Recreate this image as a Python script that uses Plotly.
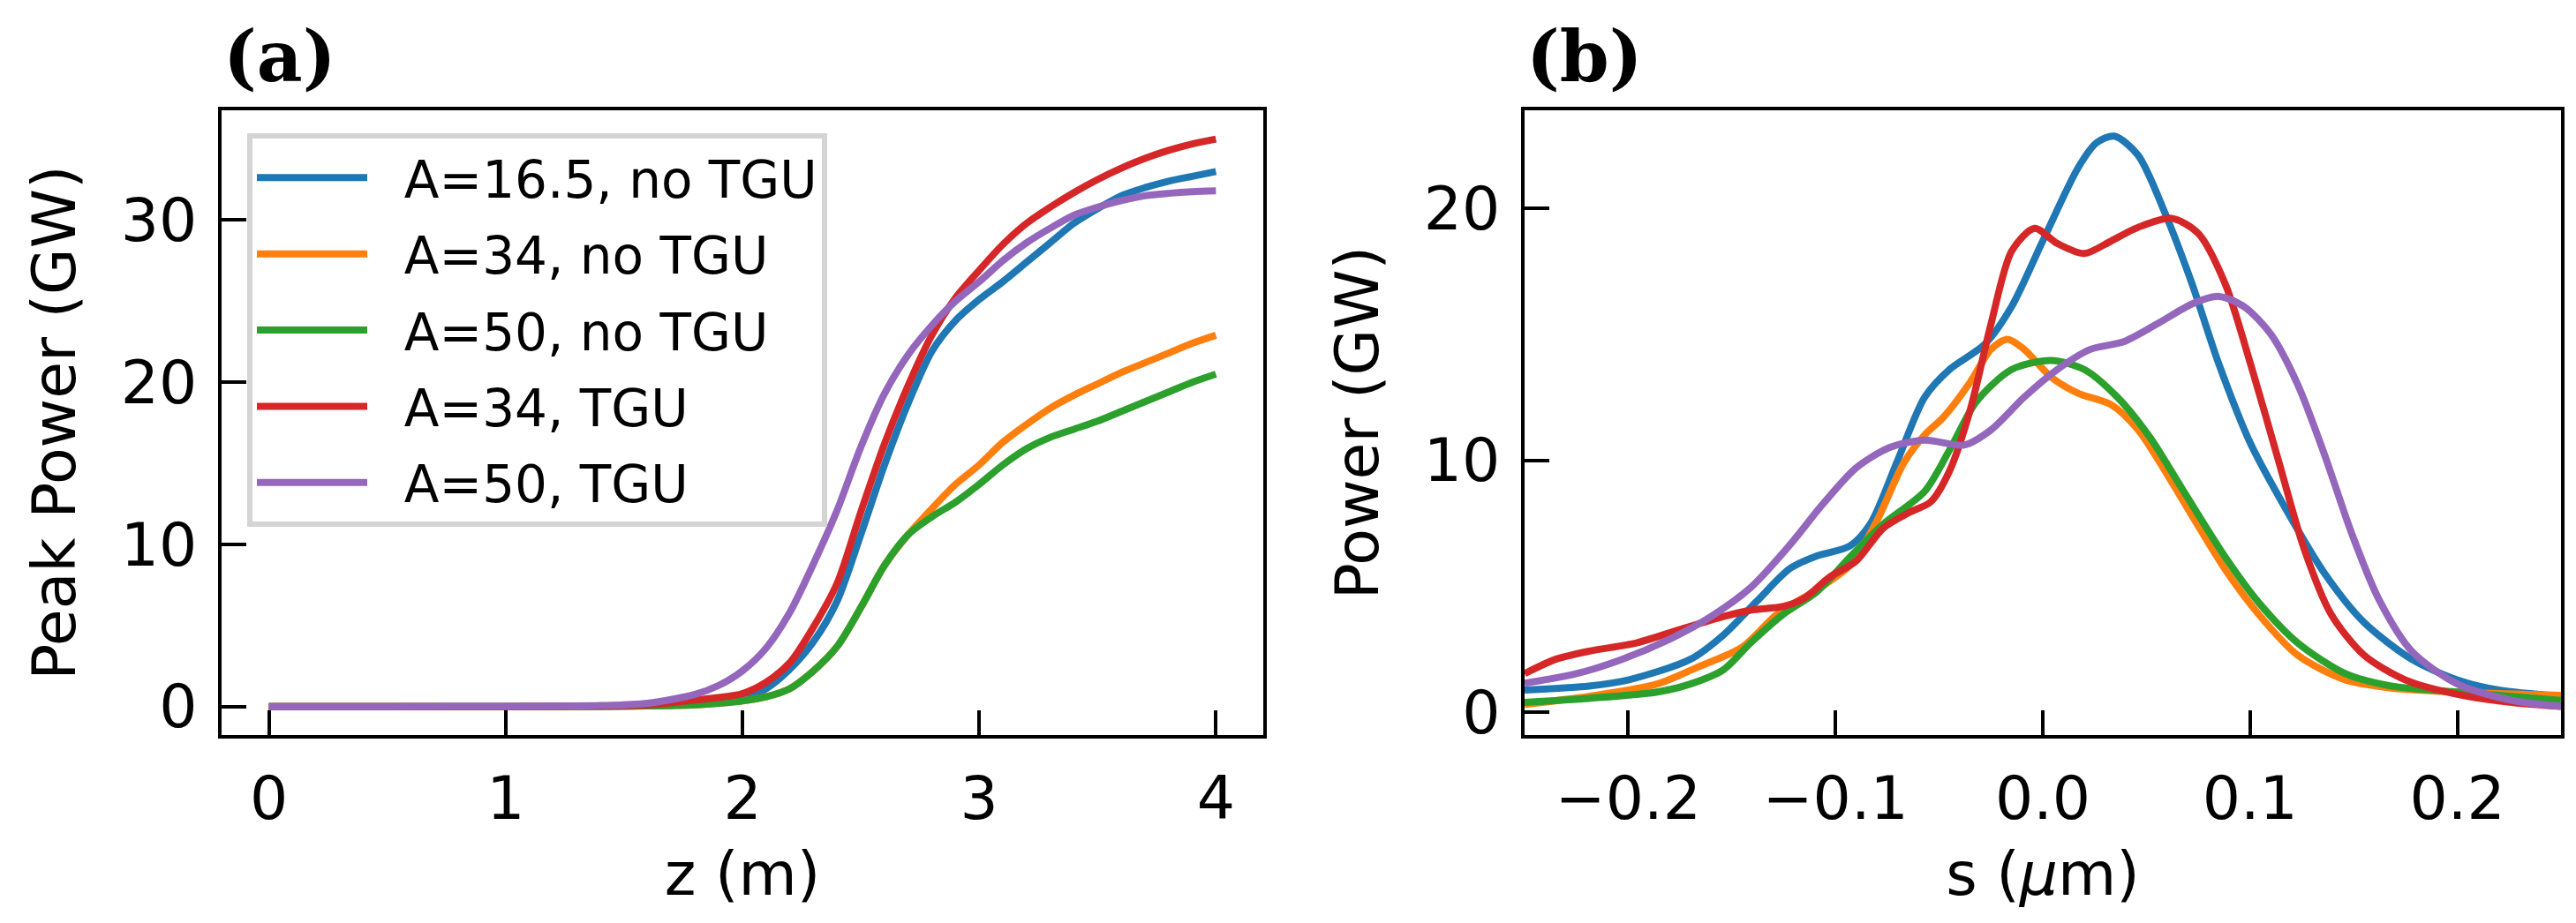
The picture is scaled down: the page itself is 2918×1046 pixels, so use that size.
import plotly.graph_objects as go

# ---------------- data: panel (a) peak power vs z ----------------
z = [0.0, 0.5, 1.0, 1.4, 1.6, 1.8, 1.9, 2.0, 2.1, 2.2, 2.3, 2.4, 2.5, 2.6, 2.7,
     2.8, 2.9, 3.0, 3.1, 3.2, 3.3, 3.4, 3.5, 3.6, 3.7, 3.8, 3.9, 4.0]

pk_a165_notgu = [0.0, 0.0, 0.0, 0.01, 0.05, 0.2, 0.3, 0.5, 1.1, 2.3, 4.0, 6.5, 10.6, 14.9, 18.7,
                 21.9, 23.8, 25.1, 26.2, 27.4, 28.6, 29.8, 30.7, 31.5, 32.0, 32.4, 32.7, 33.0]
pk_a34_notgu = [0.0, 0.0, 0.0, 0.01, 0.03, 0.1, 0.2, 0.35, 0.6, 1.1, 2.2, 3.7, 6.1, 8.7, 10.6,
                12.2, 13.7, 14.9, 16.3, 17.4, 18.4, 19.2, 19.9, 20.6, 21.2, 21.8, 22.4, 22.9]
pk_a50_notgu = [0.0, 0.0, 0.0, 0.01, 0.03, 0.1, 0.2, 0.35, 0.6, 1.1, 2.2, 3.7, 6.1, 8.7, 10.6,
                11.7, 12.6, 13.7, 14.9, 15.9, 16.6, 17.1, 17.6, 18.2, 18.8, 19.4, 20.0, 20.5]
pk_a34_tgu = [0.0, 0.0, 0.0, 0.02, 0.1, 0.4, 0.55, 0.8, 1.5, 2.7, 4.9, 7.6, 12.0, 16.2, 19.8,
              22.9, 25.2, 26.9, 28.5, 29.8, 30.8, 31.7, 32.5, 33.2, 33.8, 34.3, 34.7, 35.0]
pk_a50_tgu = [0.0, 0.0, 0.01, 0.06, 0.2, 0.75, 1.3, 2.2, 3.6, 5.8, 8.8, 12.1, 16.0, 19.3, 21.7,
              23.5, 25.0, 26.2, 27.5, 28.6, 29.5, 30.3, 30.8, 31.2, 31.5, 31.65, 31.75, 31.8]

# ---------------- data: panel (b) power profile vs s ----------------
s_blue = [-0.25, -0.219, -0.2, -0.17, -0.154, -0.138, -0.122, -0.109, -0.093, -0.083, -0.07,
          -0.057, -0.045, -0.028, -0.015, 0.0, 0.017, 0.026, 0.0345, 0.046, 0.059, 0.072,
          0.085, 0.1, 0.117, 0.136, 0.155, 0.178, 0.2, 0.22, 0.25]
p_blue = [0.88, 1.04, 1.28, 2.1, 3.07, 4.4, 5.7, 6.2, 6.6, 7.5, 10.0,
          12.5, 13.6, 14.6, 16.1, 18.7, 21.6, 22.6, 22.86, 22.1, 19.8, 17.0,
          13.8, 10.7, 8.1, 5.5, 3.56, 2.1, 1.28, 0.88, 0.63]

s_orange = [-0.25, -0.219, -0.186, -0.167, -0.145, -0.128, -0.109, -0.093, -0.08, -0.067, -0.057,
            -0.048, -0.035, -0.025, -0.017, -0.009, 0.004, 0.017, 0.033, 0.046, 0.059, 0.072,
            0.088, 0.104, 0.123, 0.146, 0.168, 0.2, 0.25]
p_orange = [0.31, 0.63, 1.12, 1.77, 2.58, 3.9, 4.86, 5.83, 7.6, 9.9, 11.0,
            11.7, 13.1, 14.4, 14.8, 14.4, 13.3, 12.66, 12.2, 11.2, 9.57, 7.8,
            5.67, 3.9, 2.26, 1.28, 0.96, 0.8, 0.67]

s_green = [-0.25, -0.219, -0.186, -0.17, -0.154, -0.141, -0.125, -0.109, -0.093, -0.077, -0.057,
           -0.045, -0.032, -0.015, 0.004, 0.02, 0.036, 0.052, 0.068, 0.088, 0.104, 0.123,
           0.146, 0.168, 0.2, 0.25]
p_green = [0.39, 0.55, 0.8, 1.12, 1.69, 2.75, 3.9, 4.78, 6.16, 7.46, 8.76,
           10.4, 12.33, 13.6, 13.96, 13.6, 12.5, 10.87, 8.76, 6.16, 4.37, 2.75,
           1.53, 1.04, 0.8, 0.47]

s_red = [-0.25, -0.235, -0.219, -0.196, -0.177, -0.154, -0.141, -0.125, -0.115, -0.103, -0.09,
         -0.077, -0.064, -0.054, -0.045, -0.035, -0.025, -0.015, -0.004, 0.007, 0.02, 0.033,
         0.046, 0.062, 0.075, 0.088, 0.101, 0.114, 0.126, 0.139, 0.155, 0.175, 0.2, 0.226, 0.25]
p_red = [1.53, 2.1, 2.42, 2.75, 3.23, 3.8, 4.05, 4.2, 4.53, 5.35, 6.0,
         7.3, 7.94, 8.35, 9.57, 12.0, 15.4, 18.3, 19.2, 18.6, 18.2, 18.7,
         19.24, 19.6, 19.0, 17.0, 13.6, 9.9, 6.5, 3.9, 2.26, 1.28, 0.71, 0.39, 0.23]

s_purple = [-0.25, -0.225, -0.203, -0.18, -0.16, -0.141, -0.122, -0.106, -0.09, -0.074, -0.057,
            -0.038, -0.025, -0.009, 0.007, 0.023, 0.039, 0.055, 0.072, 0.085, 0.097, 0.11,
            0.123, 0.136, 0.149, 0.162, 0.178, 0.2, 0.226, 0.25]
p_purple = [1.15, 1.53, 2.1, 2.9, 3.8, 4.94, 6.64, 8.27, 9.7, 10.5, 10.8,
            10.6, 11.2, 12.5, 13.6, 14.4, 14.7, 15.4, 16.2, 16.5, 16.1, 15.0,
            13.0, 10.2, 7.1, 4.5, 2.42, 1.12, 0.47, 0.23]

labels = ["A=16.5, no TGU", "A=34, no TGU", "A=50, no TGU", "A=34, TGU", "A=50, TGU"]
colors = ["#1f77b4", "#ff7f0e", "#2ca02c", "#d62728", "#9467bd"]

W, H = 2918, 1046
FONT = "DejaVu Sans"
LW = 8
PAD = "\u00a0\u00a0"

fig = go.Figure()

series_a = [pk_a165_notgu, pk_a34_notgu, pk_a50_notgu, pk_a34_tgu, pk_a50_tgu]
for i, (lab, col, ys) in enumerate(zip(labels, colors, series_a)):
    fig.add_trace(go.Scatter(x=z, y=ys, mode="lines", name=PAD + lab, legendgroup=f"g{i}",
                             line=dict(color=col, width=LW, shape="spline", smoothing=0.8),
                             xaxis="x", yaxis="y", showlegend=True))

series_b = [(s_blue, p_blue), (s_orange, p_orange), (s_green, p_green),
            (s_red, p_red), (s_purple, p_purple)]
for i, (lab, col, (xs, ys)) in enumerate(zip(labels, colors, series_b)):
    fig.add_trace(go.Scatter(x=xs, y=ys, mode="lines", name=lab, legendgroup=f"g{i}",
                             line=dict(color=col, width=LW, shape="spline", smoothing=0.8),
                             xaxis="x2", yaxis="y2", showlegend=False))

axis_common = dict(showline=True, linecolor="black", linewidth=4, mirror=True,
                   ticks="inside", ticklen=28, tickwidth=4, tickcolor="black",
                   showgrid=False, zeroline=False,
                   tickfont=dict(family=FONT, size=68, color="black"),
                   ticklabelstandoff=10)

ydom = [1 - 836 / H, 1 - 119 / H]
fig.update_layout(
    width=W, height=H, autosize=False,
    margin=dict(l=0, r=0, t=0, b=0),
    paper_bgcolor="white", plot_bgcolor="white",
    font=dict(family=FONT, size=68, color="black"),
    xaxis=dict(domain=[243 / W, 1423 / W], range=[-0.2, 4.2], tickvals=[0, 1, 2, 3, 4],
               title=dict(text="z (m)", font=dict(family=FONT, size=68), standoff=24),
               anchor="y", **axis_common),
    yaxis=dict(domain=ydom, range=[-1.75, 36.75], tickvals=[0, 10, 20, 30],
               title=dict(text="Peak Power (GW)", font=dict(family=FONT, size=68), standoff=30),
               anchor="x", **axis_common),
    xaxis2=dict(domain=[1719 / W, 2893 / W], range=[-0.25, 0.25],
                tickvals=[-0.2, -0.1, 0.0, 0.1, 0.2], tickformat=".1f",
                title=dict(text="s (<i>μ</i>m)", font=dict(family=FONT, size=68), standoff=24),
                anchor="y2", **axis_common),
    yaxis2=dict(domain=ydom, range=[-0.9, 23.87], tickvals=[0, 10, 20],
                title=dict(text="Power (GW)", font=dict(family=FONT, size=68), standoff=30),
                anchor="x2", **axis_common),
    legend=dict(x=272 / W, y=1 - 145 / H, xanchor="left", yanchor="top",
                bgcolor="rgba(255,255,255,0.8)", bordercolor="#d4d4d4", borderwidth=6,
                font=dict(family=FONT, size=58, color="black"), itemwidth=125,
                tracegroupgap=8),
    annotations=[
        dict(text="<b>(a)</b>", xref="paper", yref="paper", x=243 / W, y=1 - 119 / H,
             xanchor="left", yanchor="bottom", showarrow=False, yshift=12,
             font=dict(family="DejaVu Serif", size=80, color="black")),
        dict(text="<b>(b)</b>", xref="paper", yref="paper", x=1719 / W, y=1 - 119 / H,
             xanchor="left", yanchor="bottom", showarrow=False, yshift=12,
             font=dict(family="DejaVu Serif", size=80, color="black")),
    ],
)

fig.write_html("out.html")
